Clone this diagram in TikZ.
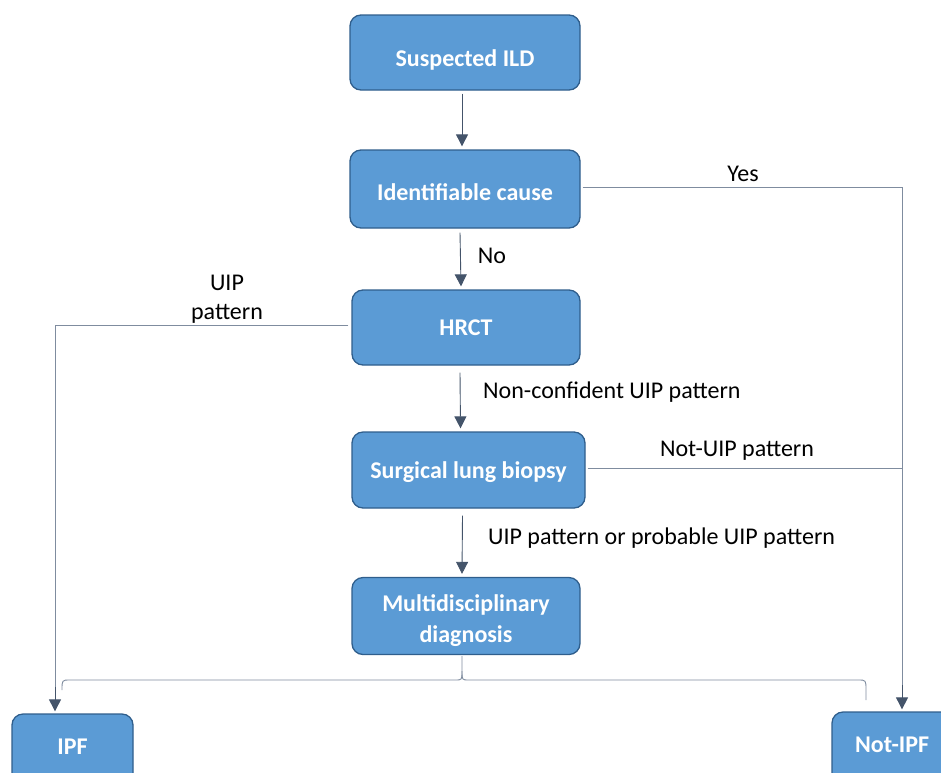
\documentclass[tikz,border=0pt]{standalone}
\usepackage{fontspec}
\setmainfont{Carlito}
\usetikzlibrary{arrows.meta,calc}
\definecolor{boxfill}{HTML}{5B9BD5}
\definecolor{boxedge}{HTML}{2F5E8C}
\definecolor{linec}{HTML}{7F8C9F}
\definecolor{arrc}{HTML}{44546A}
\tikzset{
  stepbox/.style={draw=boxedge, line width=1.3pt, fill=boxfill, rounded corners=11pt, inner sep=0pt},
  boxtext/.style={text=white, font=\fontsize{24}{31}\selectfont\bfseries, align=center, inner sep=0pt},
  arr/.style={draw=arrc, line width=0.9pt, -{Triangle[length=12pt,width=12pt]}},
  conn/.style={draw=linec, line width=0.9pt},
  lbl/.style={font=\fontsize{24}{29}\selectfont, text=black, inner sep=0pt}
}
\begin{document}
\begin{tikzpicture}[x=1pt,y=-1pt]
\useasboundingbox (0,0) rectangle (941,772);
\clip (0,0) rectangle (941,772);
\node[stepbox, minimum width=230pt, minimum height=75pt,
  label={[boxtext,yshift=-7pt]center:Suspected ILD}] (sus) at (465,52.5) {};
\node[stepbox, minimum width=230pt, minimum height=78pt,
  label={[boxtext,yshift=-3pt]center:Identifiable cause}] (ide) at (465,189) {};
\node[stepbox, minimum width=228pt, minimum height=75pt,
  label={[boxtext]center:HRCT}] (hrct) at (466,327.5) {};
\node[stepbox, minimum width=233pt, minimum height=76pt,
  label={[boxtext,yshift=-2.5pt]center:Surgical lung biopsy}] (slb) at (468.5,470) {};
\node[stepbox, minimum width=228pt, minimum height=77pt,
  label={[boxtext,yshift=-5pt]center:Multidisciplinary\\diagnosis}] (mdd) at (466,616) {};
\node[stepbox, minimum width=121pt, minimum height=76pt,
  label={[boxtext,yshift=5pt]center:IPF}] (ipf) at (72.5,752) {};
\node[stepbox, minimum width=120pt, minimum height=76pt,
  label={[boxtext,yshift=5pt]center:Not-IPF}] (nipf) at (892,750) {};
\coordinate (yx) at (902,0);
\coordinate (lx) at (55,0);
% main vertical arrows
\draw[arr] ($(sus.south)+(-3,3)$) -- ($(ide.north)+(-3,-3)$);
\draw[arr] ($(ide.south)+(-5,4)$) -- ($(hrct.north)+(-5,-3)$);
\draw[arr] ($(hrct.south)+(-6,7)$) -- ($(slb.north)+(-8,-3)$);
\draw[arr] ($(slb.south)+(-6,7)$) -- ($(mdd.north)+(-4,-3)$);
% Yes branch
\draw[conn] (ide.east) ++(2,-2) -- ($(ide.east -| yx)+(0,-2)$) -- ($(nipf.north -| yx)+(0,-25)$);
\draw[arr] ($(nipf.north -| yx)+(0,-26)$) -- ($(nipf.north -| yx)+(0,-2)$);
% Not-UIP branch
\draw[conn] ($(slb.east)+(2,-2)$) -- ($(slb.east -| yx)+(0,-2)$);
% UIP pattern branch
\draw[conn] ($(hrct.west)+(-3,-2)$) -- ($(hrct.west -| lx)+(0,-2)$) -- ($(ipf.north -| lx)+(0,-25)$);
\draw[arr] ($(ipf.north -| lx)+(0,-26)$) -- ($(ipf.north -| lx)+(0,-2)$);
% brace from MDD
\draw[conn] ($(mdd.south)+(-4,1)$) coordinate (bt) -- (462,671)
  .. controls (462,680) .. (455,680) -- (70,680)
  .. controls (62,680) .. (62,690);
\draw[conn] (462,671) .. controls (462,680) .. (469,680) -- (858,680)
  .. controls (866,680) .. (866,690) -- (866,700);
% labels
\node[lbl] (lyes) at (743,174) {Yes};
\node[lbl] (lno) at (492,256) {No};
\node[lbl, align=center] (luip) at (227,299) {UIP\\pattern};
\node[lbl, anchor=west] (lnc) at (483,392) {Non-confident UIP pattern};
\node[lbl] (lnu) at (737,451) {Not-UIP pattern};
\node[lbl, anchor=west] (lpu) at (488,538) {UIP pattern or probable UIP pattern};
\end{tikzpicture}
\end{document}
